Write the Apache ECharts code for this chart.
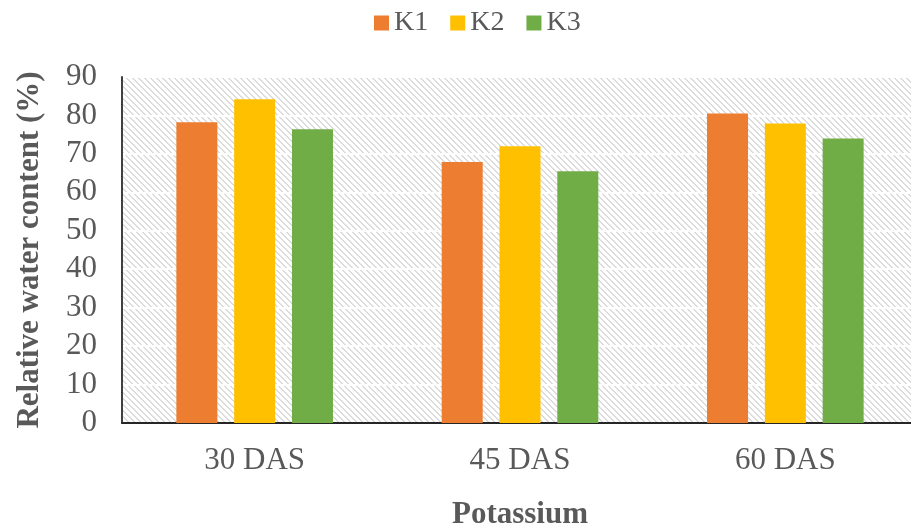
<!DOCTYPE html>
<html>
<head>
<meta charset="utf-8">
<script src="https://cdn.jsdelivr.net/npm/echarts@6/dist/echarts.min.js"></script>
<style>html,body{margin:0;padding:0;background:#fff}#c{width:911px;height:529px}</style>
</head>
<body>
<div id="c"></div>
<script>
const categories = ['30 DAS', '45 DAS', '60 DAS'];
const seriesNames = ['K1', 'K2', 'K3'];
const k1 = [78.2, 67.9, 80.5];
const k2 = [84.2, 72.0, 77.9];
const k3 = [76.4, 65.5, 74.0];
const colors = ['#ED7D31', '#FFC000', '#70AD47'];

const tile = document.createElement('canvas');
tile.width = 6; tile.height = 6;
const tc = tile.getContext('2d');
tc.fillStyle = '#ffffff';
tc.fillRect(0, 0, 6, 6);
tc.fillStyle = '#dcdcdc';
for (let i = 0; i < 6; i++) {
  tc.fillRect(i, i, 2, 1);
  if (i === 5) tc.fillRect(0, 5, 1, 1);
}

const font = '"Liberation Serif", "Times New Roman", serif';
const chart = echarts.init(document.getElementById('c'), null, {renderer: 'canvas'});
const data = [k1, k2, k3];
chart.setOption({
  animation: false,
  color: colors,
  legend: {
    top: 4,
    left: 369,
    itemWidth: 15,
    itemHeight: 15,
    itemGap: 22,
    icon: 'rect',
    textStyle: {fontFamily: font, fontSize: 28, color: '#595959'},
    data: seriesNames
  },
  grid: {
    left: 122, top: 77, width: 796, height: 346,
    outerBoundsMode: 'none',
    containLabel: false,
    show: true,
    backgroundColor: {image: tile, repeat: 'repeat'},
    borderWidth: 0
  },
  xAxis: {
    type: 'category',
    data: categories,
    name: 'Potassium',
    nameLocation: 'middle',
    nameGap: 76,
    nameTextStyle: {fontFamily: font, fontSize: 31, fontWeight: 'bold', color: '#595959'},
    axisLine: {lineStyle: {color: '#262626', width: 2}},
    axisTick: {show: false},
    axisLabel: {fontFamily: font, fontSize: 31, color: '#595959', margin: 22}
  },
  yAxis: {
    type: 'value',
    min: 0, max: 90, interval: 10,
    name: 'Relative water content (%)',
    nameLocation: 'middle',
    nameGap: 77,
    nameTextStyle: {fontFamily: font, fontSize: 31, fontWeight: 'bold', color: '#595959'},
    axisLine: {show: true, lineStyle: {color: '#404040', width: 2}},
    axisTick: {show: false},
    axisLabel: {fontFamily: font, fontSize: 31, color: '#595959', margin: 25},
    splitLine: {show: true, lineStyle: {color: '#ffffff', width: 2}}
  },
  series: seriesNames.map((n, i) => ({
    name: n,
    type: 'bar',
    data: data[i],
    barWidth: 41,
    barGap: '41%',
    itemStyle: {color: colors[i]}
  }))
});
</script>
</body>
</html>
